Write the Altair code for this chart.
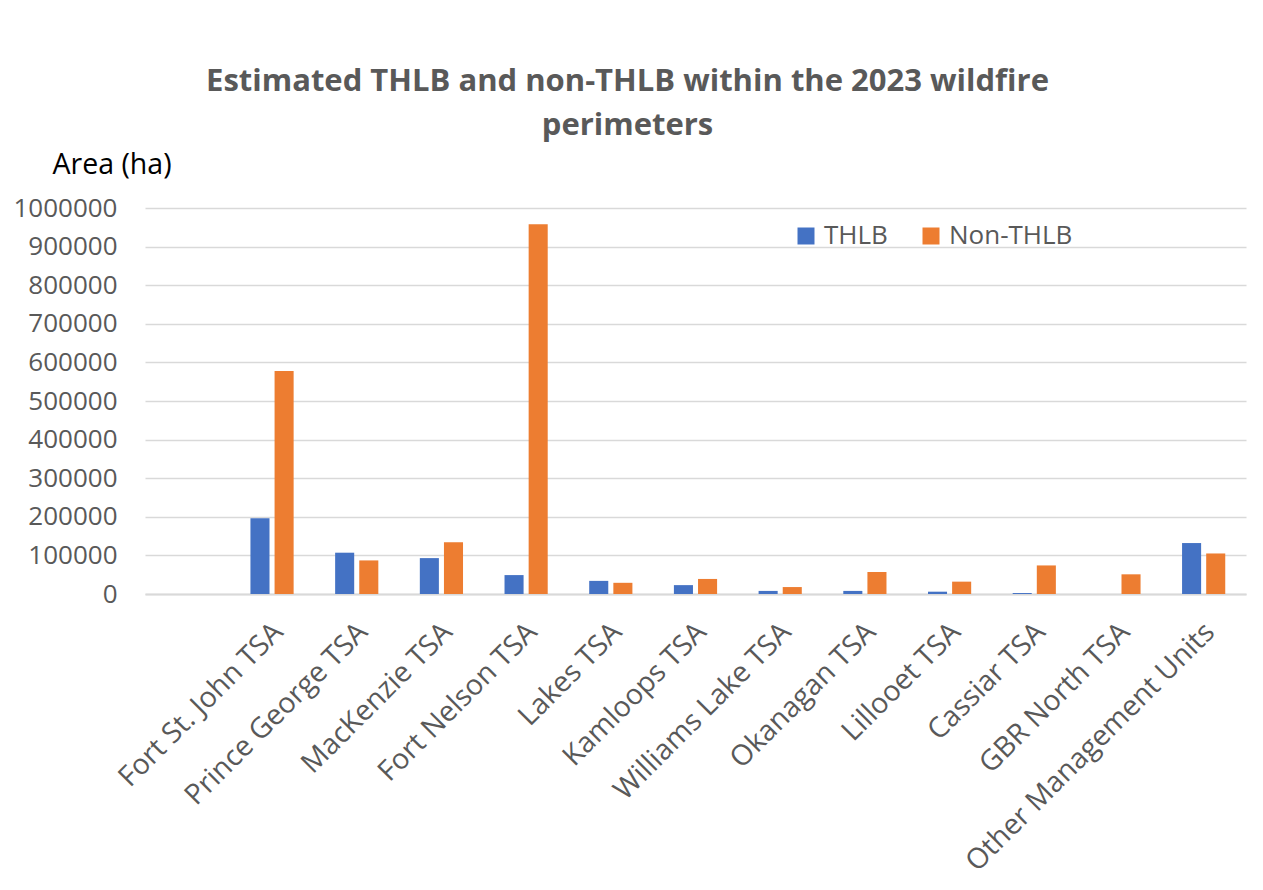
import altair as alt
import pandas as pd

categories = ["Fort St. John TSA", "Prince George TSA", "MacKenzie TSA", "Fort Nelson TSA",
              "Lakes TSA", "Kamloops TSA", "Williams Lake TSA", "Okanagan TSA",
              "Lillooet TSA", "Cassiar TSA", "GBR North TSA", "Other Management Units"]
thlb = [196000, 107000, 93000, 49000, 34000, 23000, 8000, 8000, 6000, 2500, 0, 132000]
non_thlb = [578000, 87000, 134000, 958000, 29000, 39000, 18000, 57000, 32000, 74000, 51000, 105000]
series = ["THLB", "Non-THLB"]
colors = ["#4472C4", "#ED7D31"]
y_ticks = [0, 100000, 200000, 300000, 400000, 500000, 600000, 700000, 800000, 900000, 1000000]

rows = []
for c, a, b in zip(categories, thlb, non_thlb):
    rows.append({"unit": c, "type": series[0], "area": a})
    rows.append({"unit": c, "type": series[1], "area": b})
df = pd.DataFrame(rows)

# leading blank category slot as in the original
domain = [" "] + categories

FONT = "Open Sans"
GREY = "#595959"
GRID = "#d9d9d9"

chart = alt.Chart(df).mark_bar().encode(
    x=alt.X("unit:N", sort=domain,
            scale=alt.Scale(domain=domain, paddingInner=0.49, paddingOuter=0.245),
            axis=alt.Axis(title=None, labelAngle=-45, labelAlign="right", labelBaseline="middle",
                          labelFontSize=28.5, labelColor=GREY, labelFont=FONT, labelPadding=33,
                          labelOffset=6, ticks=False, domainColor=GRID, domainWidth=2,
                          labelLimit=600)),
    xOffset=alt.XOffset("type:N", sort=series,
                        scale=alt.Scale(domain=series, paddingInner=0.21, paddingOuter=0)),
    y=alt.Y("area:Q", scale=alt.Scale(domain=[0, 1000000]),
            axis=alt.Axis(values=y_ticks, format="d", title="Area (ha)",
                          labelFontSize=26, labelColor=GREY, labelFont=FONT, labelPadding=28,
                          ticks=False, domain=False, grid=True, gridColor=GRID, gridWidth=1.5,
                          titleFont=FONT, titleFontSize=28.5, titleFontWeight="normal",
                          titleColor="#000000", titleAngle=0, titleAlign="left",
                          titleBaseline="alphabetic", titleX=-93, titleY=-35)),
    color=alt.Color("type:N", sort=series,
                    scale=alt.Scale(domain=series, range=colors),
                    legend=alt.Legend(title=None, orient="none", legendX=648, legendY=15,
                                      direction="horizontal", symbolType="square",
                                      symbolSize=289, symbolStrokeWidth=0,
                                      labelFont=FONT, labelFontSize=26, labelColor=GREY,
                                      labelOffset=5, columnPadding=30)),
).properties(
    width=1101,
    height=386,
    background="white",
    autosize=alt.AutoSizeParams(type="none"),
    padding={"left": 145, "top": 208, "right": 17, "bottom": 296},
    title=alt.TitleParams(
        text=["Estimated THLB and non-THLB within the 2023 wildfire", "perimeters"],
        font=FONT, fontSize=31, fontWeight="bold", color=GREY,
        anchor="middle", dx=-68, offset=8, lineHeight=44),
).configure_view(stroke="transparent", strokeWidth=0)

chart.save("out.html", embed_options={"renderer": "svg", "actions": False})
